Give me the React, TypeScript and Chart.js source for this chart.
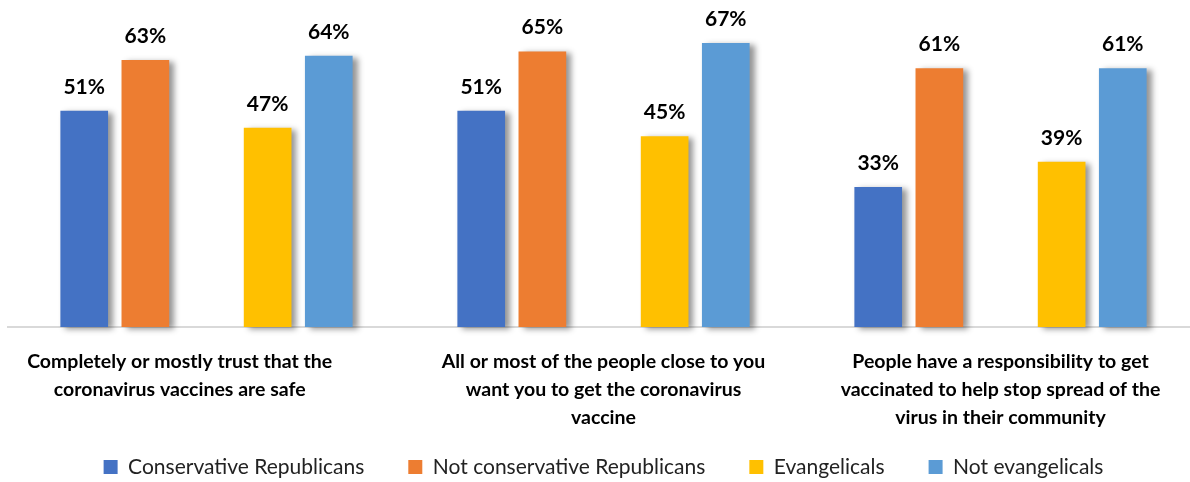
import React, { useEffect, useRef } from "react";
import { Chart, registerables } from "chart.js";

Chart.register(...registerables);

const categories: string[][] = [
  ["Completely or mostly trust that the", "coronavirus vaccines are safe"],
  ["All or most of the people close to you", "want you to get the coronavirus", "vaccine"],
  ["People have a responsibility to get", "vaccinated to help stop spread of the", "virus in their community"],
];

const seriesNames = [
  "Conservative Republicans",
  "Not conservative Republicans",
  "Evangelicals",
  "Not evangelicals",
];

const conservativeRepublicans = [51, 51, 33];
const notConservativeRepublicans = [63, 65, 61];
const evangelicals = [47, 45, 39];
const notEvangelicals = [64, 67, 61];
const spacer: (number | null)[] = [null, null, null];

const seriesColors = ["#4472C4", "#ED7D31", "#FFC000", "#5B9BD5"];

const FONT = "Lato, 'Open Sans', sans-serif";

const shadowAndLabels = {
  id: "shadowAndLabels",
  beforeDatasetsDraw(chart: any) {
    const ctx = chart.ctx;
    ctx.save();
    ctx.shadowColor = "rgba(0,0,0,0.42)";
    ctx.shadowBlur = 6;
    ctx.shadowOffsetX = 5;
    ctx.shadowOffsetY = 2;
  },
  afterDatasetsDraw(chart: any) {
    const ctx = chart.ctx;
    ctx.restore();
    ctx.save();
    ctx.font = `bold 21px ${FONT}`;
    ctx.fillStyle = "#000000";
    ctx.textAlign = "center";
    ctx.textBaseline = "alphabetic";
    chart.data.datasets.forEach((ds: any, di: number) => {
      const meta = chart.getDatasetMeta(di);
      meta.data.forEach((el: any, i: number) => {
        const v = ds.data[i];
        if (v == null) return;
        ctx.fillText(`${v}%`, el.x, el.y - 17);
      });
    });
    ctx.restore();
  },
};

export default function App() {
  const ref = useRef<HTMLCanvasElement | null>(null);
  useEffect(() => {
    if (!ref.current) return;
    const chart = new Chart(ref.current, {
      type: "bar",
      data: {
        labels: categories,
        datasets: [
          { label: seriesNames[0], data: conservativeRepublicans, backgroundColor: seriesColors[0], clip: false },
          { label: seriesNames[1], data: notConservativeRepublicans, backgroundColor: seriesColors[1], clip: false },
          { label: "", data: spacer, backgroundColor: "rgba(0,0,0,0)" },
          { label: seriesNames[2], data: evangelicals, backgroundColor: seriesColors[2], clip: false },
          { label: seriesNames[3], data: notEvangelicals, backgroundColor: seriesColors[3], clip: false },
        ],
      },
      options: {
        responsive: false,
        animation: false,
        layout: { padding: { top: 9, left: 8, right: 1, bottom: -5.5 } },
        datasets: { bar: { categoryPercentage: 0.77, barPercentage: 0.78 } },
        scales: {
          x: {
            grid: { display: false, drawTicks: false },
            border: { display: true, color: "#d9d9d9", width: 2 },
            ticks: {
              autoSkip: false,
              maxRotation: 0,
              minRotation: 0,
              mirror: true,
              padding: -49,
              color: "#000000",
              font: { family: FONT, size: 19.5, weight: "bold", lineHeight: "28px" },
              callback: function (this: any, _v: any, i: number) {
                const lines = categories[i];
                // Excel pushed the first category's label slightly to the left
                return i === 0 ? lines.map((l) => l + "\u2003\u2003\u2002\u2002\u2009\u2009") : lines;
              },
            },
            afterFit(scale: any) {
              scale.height = 85.5;
            },
          },
          y: {
            display: false,
            min: 0,
            max: 75,
          },
        },
        plugins: {
          legend: {
            position: "bottom",
            labels: {
              boxWidth: 14,
              boxHeight: 14,
              padding: 44,
              color: "#222222",
              font: { family: FONT, size: 21 },
              filter: (item: any) => item.text !== "",
            },
          },
          tooltip: { enabled: false },
        },
      },
      plugins: [shadowAndLabels],
    } as any);
    return () => chart.destroy();
  }, []);
  return (
    <div style={{ position: "absolute", left: 0, top: 0, width: 1190, height: 482, overflow: "hidden", background: "#ffffff" }}>
      <canvas ref={ref} width={1200} height={482} style={{ display: "block" }} />
    </div>
  );
}
